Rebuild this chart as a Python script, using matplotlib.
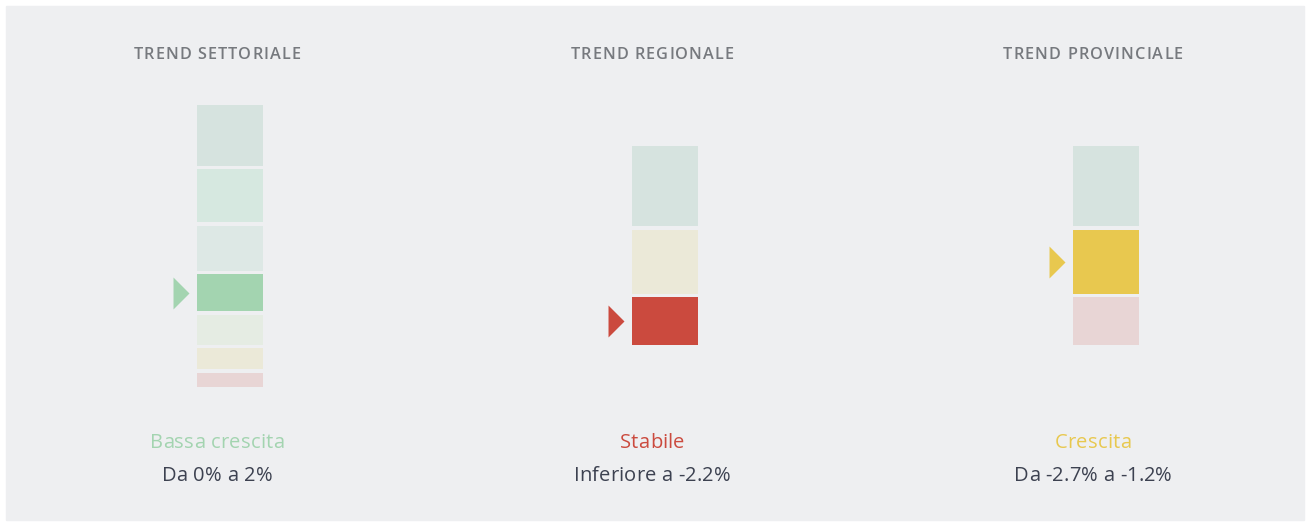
import matplotlib.pyplot as plt
from matplotlib.patches import Rectangle
from matplotlib.font_manager import findfont, FontProperties
from matplotlib.ft2font import FT2Font

plt.rcParams['font.family'] = ['Open Sans', 'DejaVu Sans']

# dati
titles = ['TREND SETTORIALE', 'TREND REGIONALE', 'TREND PROVINCIALE']
labels = ['Bassa crescita', 'Stabile', 'Crescita']
ranges = ['Da 0% a 2%', 'Inferiore a -2.2%', 'Da -2.7% a -1.2%']

# dimensione dei segmenti (dall'alto in basso)
seg_sett = [61, 53, 45, 37, 30, 21, 14]
seg_reg = [80, 64, 48]
seg_prov = [80, 64, 48]

col_sett = ['#d6e3df', '#d6e8e0', '#dde8e5', '#a3d4b0', '#e5ece3', '#ebe9d8', '#e8d5d5']
col_reg = ['#d6e3df', '#ebe9d8', '#cb4a3e']
col_prov = ['#d6e3df', '#e8c84f', '#e8d5d5']

# segmento evidenziato
sel = [3, 2, 1]
sel_col = ['#a3d4b0', '#cb4a3e', '#e8c84f']

segments = [seg_sett, seg_reg, seg_prov]
colors = [col_sett, col_reg, col_prov]

fig = plt.figure(figsize=(13.1, 5.22), dpi=100)
ax = fig.add_axes([0, 0, 1, 1])
ax.set_xlim(0, 1310)
ax.set_ylim(522, 0)
ax.axis('off')
ax.add_patch(Rectangle((6, 6), 1298, 514, color='#eeeff1', zorder=0))


def tracked_text(cx, y, s, size, color, weight='normal', track=0.0):
    # testo centrato con spaziatura tra le lettere (1 unita = 1 pixel)
    fp = FontProperties(family='Open Sans', weight=weight, size=size)
    ft = FT2Font(findfont(fp))
    ft.set_size(size, 100)
    adv = [ft.load_char(ord(c)).linearHoriAdvance / 65536 for c in s]
    total = sum(adv) + track * (len(s) - 1)
    x = cx - total / 2
    for c, a in zip(s, adv):
        ax.text(x, y, c, ha='left', va='baseline', fontproperties=fp, color=color)
        x += a + track


centers = [217, 652, 1093]
bw = 66
gap = 3.5
mid_y = 245.5

for i in range(3):
    cx = centers[i]
    bx = cx + 13
    segs = segments[i]
    total = sum(segs) + gap * (len(segs) - 1)
    top = mid_y - total / 2
    for j, h in enumerate(segs):
        ax.bar(bx, h, bottom=top, width=bw, color=colors[i][j], zorder=2)
        if j == sel[i]:
            ax.plot(bx - bw / 2 - 16.5, top + h / 2, linestyle='none',
                    marker=[(-0.5, -1), (-0.5, 1), (0.5, 0)], ms=23,
                    color=sel_col[i], mec='none', zorder=3)
        top += h + gap

    tracked_text(cx, 59.3, titles[i], 11.7, '#76797e', weight='semibold', track=1.1)
    tracked_text(cx, 448.3, labels[i], 14.5, sel_col[i], track=0.25)
    tracked_text(cx, 481, ranges[i], 14.5, '#3c4150', track=0.15)

plt.savefig('out.png', dpi=100)
